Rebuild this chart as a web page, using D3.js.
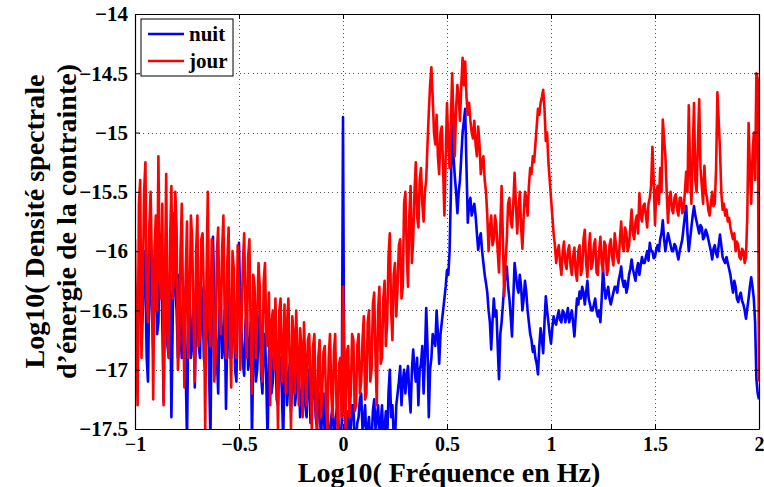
<!DOCTYPE html>
<html>
<head>
<meta charset="utf-8">
<script src="https://cdn.jsdelivr.net/npm/d3@7"></script>
<style>
  html, body { margin: 0; padding: 0; background: #fff; }
  svg { display: block; }
  text { font-family: "Liberation Serif", "Times New Roman", serif; font-weight: bold; fill: #000; }
</style>
</head>
<body>
<svg id="chart" width="764" height="487"></svg>
<script>
// Spectral energy density of strain, log10 scale, sampled on a regular log10(f) grid from -1 to 2
const xStart = -1;
const xStep = 0.00625;

const seriesNames = ["nuit", "jour"];
const seriesColors = ["#0000ff", "#ff0000"];

const xTicks = [-1, -0.5, 0, 0.5, 1, 1.5, 2];
const yTicks = [-17.5, -17, -16.5, -16, -15.5, -15, -14.5, -14];

// nuit (night)
const nuit = [
  -16.27, -16.6, -17.0, -16.2, -15.9, -16.8, -16.5, -16.0, -16.2, -16.9,
  -17.1, -16.3, -16.0, -16.5, -16.83, -16.2, -16.1, -16.7, -16.6, -16.0,
  -15.9, -16.6, -17.27, -16.4, -16.3, -16.8, -16.9, -16.2, -17.4, -16.6,
  -15.68, -16.3, -16.5, -16.9, -16.2, -16.7, -16.9, -16.3, -16.4, -17.0,
  -17.6, -16.6, -16.3, -16.9, -16.8, -16.4, -17.15, -16.6, -16.2, -16.8,
  -16.9, -16.3, -16.4, -16.9, -17.0, -16.5, -16.3, -17.0, -17.6, -16.6,
  -15.88, -16.4, -16.6, -16.9, -17.2, -16.5, -16.4, -16.9, -16.8, -16.5,
  -17.33, -16.7, -16.3, -16.9, -16.9, -16.6, -16.5, -17.0, -17.1, -16.4,
  -15.93, -16.5, -16.7, -16.95, -17.05, -16.6, -16.5, -17.0, -16.9, -16.6,
  -17.6, -16.8, -16.6, -17.1, -17.0, -16.7, -16.5, -17.05, -17.2, -16.8,
  -16.7, -17.1, -17.6, -16.9, -16.6, -17.2, -17.1, -16.8, -16.8, -17.25,
  -17.3, -16.9, -16.9, -17.2, -17.6, -17.0, -16.8, -17.3, -17.1, -16.95,
  -17.35, -17.1, -16.8, -17.3, -17.2, -16.95, -17.0, -17.4, -17.3, -17.05,
  -16.9, -17.3, -17.4, -17.1, -17.0, -17.45, -17.3, -17.15, -17.1, -17.4,
  -17.5, -17.25, -17.2, -17.6, -17.35, -17.2, -17.6, -17.3, -17.3, -17.6,
  -17.6, -17.4, -17.3, -17.55, -17.5, -17.35, -17.28, -17.6, -17.6, -17.45,
  -14.87, -17.3, -17.6, -17.4, -17.35, -17.6, -17.5, -17.3, -17.3, -17.6,
  -17.6, -17.45, -17.4, -17.25, -17.2, -17.5, -17.45, -17.3, -17.6, -17.5,
  -17.4, -17.6, -17.6, -17.35, -17.25, -17.5, -17.4, -17.3, -17.6, -17.45,
  -17.3, -17.6, -17.5, -17.35, -17.6, -17.2, -17.0, -17.4, -17.3, -17.55,
  -17.6, -17.3, -17.2, -17.1, -16.97, -17.3, -17.1, -17.0, -17.2, -17.05,
  -16.97, -17.2, -17.36, -17.0, -16.83, -17.0, -17.1, -16.9, -17.3, -17.0,
  -16.95, -16.8, -17.2, -16.9, -16.48, -16.8, -17.4, -17.0, -16.9, -16.7,
  -16.75, -16.8, -16.5, -16.7, -16.95, -16.7, -16.6, -16.5, -16.4, -16.3,
  -16.16, -16.2, -16.0, -15.5, -14.78, -15.2, -15.37, -15.5, -15.68, -15.5,
  -15.4, -15.2, -15.0, -14.9, -14.8, -15.3, -15.76, -15.6, -15.55, -15.7,
  -15.65, -15.6, -15.7, -15.85, -15.99, -15.9, -15.85, -16.0, -16.1, -16.2,
  -16.27, -16.35, -16.5, -16.6, -16.83, -16.6, -16.4, -16.55, -16.5, -16.8,
  -17.08, -16.7, -16.6, -16.45, -16.3, -16.2, -16.13, -16.3, -16.4, -16.55,
  -16.72, -16.4, -16.1, -16.2, -16.3, -16.35, -16.2, -16.3, -16.5, -16.4,
  -16.25, -16.35, -16.5, -16.6, -16.7, -16.75, -16.85, -16.8, -16.9, -16.95,
  -17.04, -16.8, -16.65, -16.75, -16.86, -16.6, -16.38, -16.5, -16.6, -16.7,
  -16.78, -16.65, -16.55, -16.6, -16.62, -16.55, -16.5, -16.58, -16.6, -16.5,
  -16.52, -16.6, -16.55, -16.48, -16.6, -16.55, -16.5, -16.6, -16.72, -16.55,
  -16.4, -16.45, -16.34, -16.4, -16.3, -16.35, -16.45, -16.35, -16.25, -16.4,
  -16.45, -16.5, -16.5, -16.45, -16.4, -16.5, -16.55, -16.5, -16.6, -16.4,
  -16.15, -16.3, -16.4, -16.35, -16.3, -16.4, -16.45, -16.4, -16.35, -16.3,
  -16.3, -16.35, -16.25, -16.2, -16.13, -16.25, -16.3, -16.25, -16.35, -16.3,
  -16.2, -16.15, -16.07, -16.15, -16.2, -16.25, -16.15, -16.1, -16.2, -16.12,
  -16.05, -16.1, -16.1, -16.05, -16.0, -16.08, -15.93, -16.0, -16.0, -16.06,
  -16.05, -15.98, -15.95, -16.0, -15.9, -15.85, -15.74, -15.9, -16.0, -15.92,
  -15.85, -15.9, -15.95, -16.0, -16.0, -15.94, -15.96, -16.02, -16.07, -16.0,
  -15.95, -15.9, -15.8, -15.7, -15.62, -15.85, -16.0, -15.9, -15.8, -15.7,
  -15.62, -15.7, -15.75, -15.8, -15.85, -15.78, -15.8, -15.9, -15.88, -15.82,
  -15.85, -15.9, -15.95, -16.0, -16.07, -15.98, -15.95, -16.02, -16.05, -15.95,
  -15.86, -15.95, -16.05, -16.08, -16.1, -16.05, -16.1, -16.15, -16.2, -16.28,
  -16.35, -16.25, -16.3, -16.4, -16.43, -16.38, -16.35, -16.42, -16.45, -16.5,
  -16.57, -16.48, -16.4, -16.3, -16.22, -16.3, -16.4, -16.6, -17.08, -17.2,
  -17.25
];

// jour (day)
const jour = [
  -15.9, -16.8, -17.3, -15.6, -15.4, -16.9, -16.3, -15.5, -15.25, -16.4,
  -16.6, -15.8, -15.5, -16.1, -17.25, -16.0, -15.7, -16.5, -15.2, -16.2,
  -16.4, -15.6, -17.3, -16.3, -15.35, -16.7, -16.9, -15.9, -15.45, -16.4,
  -16.2, -15.5, -15.8, -17.0, -16.8, -16.0, -15.6, -16.5, -17.15, -16.2,
  -15.75, -16.9, -16.5, -15.7, -15.9, -16.6, -17.1, -16.0, -15.7, -16.8,
  -16.7, -15.9, -15.85, -16.4, -17.5, -16.2, -15.5, -16.6, -16.8, -15.9,
  -16.1, -17.1, -16.9, -16.0, -15.8, -16.5, -16.7, -16.0, -15.7, -16.6,
  -16.9, -16.1, -15.8, -16.7, -17.15, -16.0, -16.15, -16.8, -16.9, -15.95,
  -16.3, -17.0, -16.6, -16.1, -15.85, -16.5, -16.9, -16.05, -15.9, -16.7,
  -17.2, -16.2, -16.3, -16.9, -16.6, -16.1, -16.3, -16.95, -17.1, -16.25,
  -16.1, -16.7, -16.8, -16.35, -17.3, -16.6, -16.5, -17.0, -16.4, -16.9,
  -17.5, -16.5, -16.4, -17.1, -16.9, -16.45, -17.2, -16.6, -16.4, -17.0,
  -17.5, -16.55, -16.7, -17.2, -16.5, -16.9, -17.3, -16.65, -16.8, -17.4,
  -16.6, -16.95, -17.3, -16.75, -16.7, -17.1, -17.5, -16.8, -16.7, -17.3,
  -17.5, -16.9, -16.75, -17.4, -17.2, -16.85, -16.8, -17.3, -17.5, -16.9,
  -16.7, -17.2, -17.4, -16.85, -16.7, -17.3, -17.5, -16.95, -16.9, -17.4,
  -16.3, -16.9, -17.5, -16.85, -16.8, -17.4, -17.2, -16.7, -16.75, -17.35,
  -17.3, -16.8, -16.7, -17.2, -17.1, -16.75, -16.55, -17.25, -17.2, -16.6,
  -16.5, -17.1, -17.0, -16.45, -16.35, -16.9, -17.3, -16.5, -16.3, -16.95,
  -16.9, -16.4, -16.25, -16.8, -16.6, -16.05, -15.85, -16.5, -16.75, -16.2,
  -16.1, -16.55, -16.3, -15.95, -15.9, -16.4, -16.3, -15.6, -15.5, -16.0,
  -16.3, -15.7, -15.45, -16.1, -15.9, -15.5, -15.25, -15.7, -15.8, -15.4,
  -15.3, -15.6, -15.75, -15.5, -15.4, -15.1, -14.83, -14.6, -14.45, -14.7,
  -15.0, -15.1, -14.85, -15.2, -15.35, -15.0, -14.95, -15.3, -15.7, -15.2,
  -14.75, -15.1, -15.3, -14.9, -14.5, -14.9, -15.2, -14.8, -14.6, -14.7,
  -14.9, -14.6, -14.37, -14.6, -14.4, -14.7, -14.85, -14.75, -14.9, -15.0,
  -15.05, -14.9, -15.1, -15.2, -14.95, -15.1, -15.35, -15.25, -15.2, -15.4,
  -15.5, -15.7, -16.0, -15.8, -15.7, -15.95, -15.9, -15.7, -15.79, -16.0,
  -16.18, -15.8, -15.45, -15.9, -16.38, -16.1, -15.9, -15.6, -15.55, -15.75,
  -15.8, -15.6, -15.34, -15.6, -15.85, -15.65, -15.5, -15.8, -15.98, -15.7,
  -15.5, -15.55, -15.7, -15.45, -15.3, -15.35, -15.2, -15.25, -15.1, -14.95,
  -14.8, -14.85, -14.75, -14.7, -14.64, -14.8, -15.07, -15.0, -15.25, -15.4,
  -15.55, -15.7, -15.85, -15.95, -16.1, -16.0, -15.95, -16.1, -16.2, -16.0,
  -15.92, -16.1, -16.15, -16.0, -15.95, -16.12, -16.2, -16.05, -15.97, -16.18,
  -16.25, -16.0, -15.95, -16.2, -16.15, -15.9, -15.82, -16.1, -16.22, -16.0,
  -15.85, -16.15, -16.1, -15.95, -15.9, -16.18, -16.2, -16.0, -15.88, -16.1,
  -16.17, -15.92, -15.95, -16.2, -16.15, -15.95, -15.9, -16.05, -16.12, -15.85,
  -15.95, -16.05, -16.1, -15.9, -15.75, -15.95, -16.0, -15.8, -15.85, -16.0,
  -15.95, -15.8, -15.65, -15.85, -15.9, -15.75, -15.7, -15.85, -15.51, -15.7,
  -15.75, -15.62, -15.6, -15.7, -15.8, -15.6, -15.55, -15.45, -15.12, -15.4,
  -15.78, -15.5, -15.45, -15.6, -15.3, -15.5, -14.89, -15.05, -15.2, -15.5,
  -15.76, -15.55, -15.5, -15.65, -15.68, -15.55, -15.52, -15.65, -15.7, -15.55,
  -15.55, -15.68, -15.65, -15.5, -15.33, -15.5, -14.77, -15.3, -15.6, -15.2,
  -14.75, -15.4, -15.5, -15.1, -14.72, -15.3, -15.45, -15.6, -15.28, -15.5,
  -15.55, -15.65, -15.7, -15.6, -15.5, -15.62, -15.6, -15.3, -14.66, -14.9,
  -15.15, -15.5, -15.65, -15.6, -15.7, -15.65, -15.75, -15.72, -15.8, -15.85,
  -15.9, -15.85, -16.0, -15.92, -15.95, -16.05, -16.07, -15.98, -16.0, -16.1,
  -16.05, -15.7, -14.92, -15.3, -15.6, -15.2, -15.0, -15.4, -14.5, -14.55,
  -17.1
];

const margin = { left: 135, right: 5, top: 14, bottom: 58 };
const W = 764, H = 487;
const iw = W - margin.left - margin.right;   // 624
const ih = H - margin.top - margin.bottom;   // 415

const x = d3.scaleLinear().domain([-1, 2]).range([0, iw]);
const y = d3.scaleLinear().domain([-17.5, -14]).range([ih, 0]);

const fmt = v => (v < 0 ? "\u2212" : "") + String(Math.abs(v));

const svg = d3.select("#chart");
const g = svg.append("g").attr("transform", `translate(${margin.left},${margin.top})`);

// dotted grid
g.append("g").attr("class", "grid")
  .attr("transform", `translate(0,${ih})`)
  .call(d3.axisBottom(x).tickValues(xTicks).tickSize(-ih).tickFormat(""));
g.append("g").attr("class", "grid")
  .call(d3.axisLeft(y).tickValues(yTicks).tickSize(-iw).tickFormat(""));
g.selectAll(".grid .domain").remove();
g.selectAll(".grid line")
  .attr("stroke", "#555")
  .attr("stroke-width", 1)
  .attr("stroke-dasharray", "1,3.2")
  .attr("shape-rendering", "crispEdges");

// data lines
g.append("clipPath").attr("id", "plotClip")
  .append("rect").attr("x", 0).attr("y", 0).attr("width", iw).attr("height", ih);

const line = d3.line()
  .x((d, i) => x(xStart + i * xStep))
  .y(d => y(d));

const plotData = [nuit, jour];
const lines = g.append("g").attr("clip-path", "url(#plotClip)");
plotData.forEach((vals, k) => {
  lines.append("path")
    .datum(vals)
    .attr("fill", "none")
    .attr("stroke", seriesColors[k])
    .attr("stroke-width", 2.6)
    .attr("stroke-linejoin", "round")
    .attr("d", line);
});

// axes with inward ticks on all four sides
const axB = g.append("g").attr("transform", `translate(0,${ih})`)
  .call(d3.axisBottom(x).tickValues(xTicks).tickSizeInner(-5).tickSizeOuter(0).tickPadding(8).tickFormat(fmt));
const axT = g.append("g")
  .call(d3.axisTop(x).tickValues(xTicks).tickSizeInner(-5).tickSizeOuter(0).tickFormat(""));
const axL = g.append("g")
  .call(d3.axisLeft(y).tickValues(yTicks).tickSizeInner(-5).tickSizeOuter(0).tickPadding(7).tickFormat(fmt));
const axR = g.append("g").attr("transform", `translate(${iw},0)`)
  .call(d3.axisRight(y).tickValues(yTicks).tickSizeInner(-5).tickSizeOuter(0).tickFormat(""));

[axB, axT, axL, axR].forEach(a => {
  a.select(".domain").attr("stroke", "#000").attr("stroke-width", 1.2);
  a.selectAll(".tick line").attr("stroke", "#000");
  a.selectAll("text")
    .style("font-family", "'Liberation Serif', 'Times New Roman', serif")
    .style("font-weight", "bold");
});
axL.selectAll("text").style("font-size", "21px");
axB.selectAll("text").style("font-size", "20px");

// axis titles
svg.append("text")
  .attr("x", margin.left + iw / 2 + 2)
  .attr("y", 482)
  .attr("text-anchor", "middle")
  .style("font-size", "28px")
  .text("Log10( Fréquence en Hz)");

const yTitle = svg.append("text")
  .attr("transform", `translate(0,${margin.top + ih / 2}) rotate(-90)`)
  .attr("text-anchor", "middle")
  .style("font-size", "28px");
yTitle.append("tspan").attr("x", 0).attr("y", 44).text("Log10( Densité spectrale");
yTitle.append("tspan").attr("x", 0).attr("y", 76).text("d\u2019énergie de la contrainte)");

// legend
const leg = g.append("g").attr("transform", "translate(6,5)");
leg.append("rect")
  .attr("width", 92).attr("height", 57)
  .attr("fill", "#fff").attr("stroke", "#000").attr("stroke-width", 1);
seriesNames.forEach((name, k) => {
  const ly = 15 + k * 27;
  leg.append("line")
    .attr("x1", 7).attr("x2", 43).attr("y1", ly).attr("y2", ly)
    .attr("stroke", seriesColors[k]).attr("stroke-width", 2.6);
  leg.append("text")
    .attr("x", 48).attr("y", ly + 7)
    .style("font-size", "21px")
    .text(name);
});
</script>
</body>
</html>
